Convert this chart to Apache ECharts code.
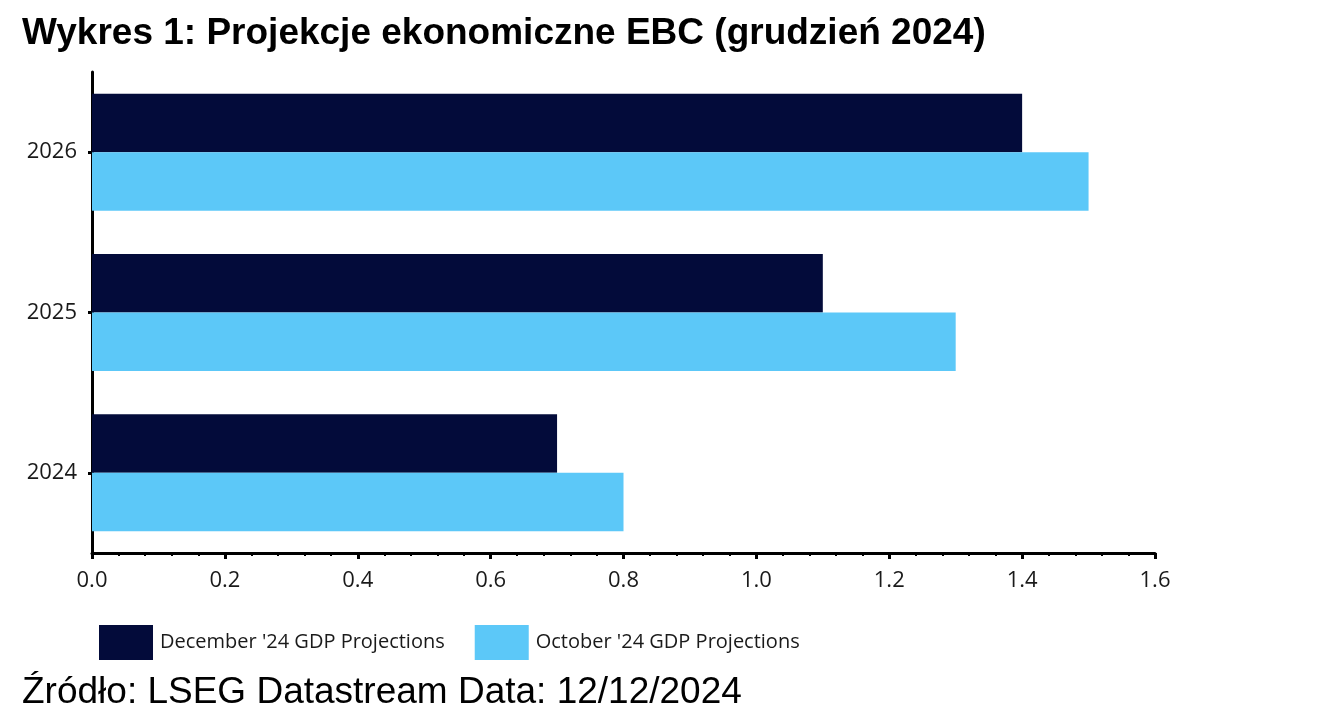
<!DOCTYPE html>
<html>
<head>
<meta charset="utf-8">
<script src="https://cdn.jsdelivr.net/npm/echarts@6/dist/echarts.min.js"></script>
<style>
  html, body { margin: 0; padding: 0; background: #fff; }
  #chart { width: 1338px; height: 716px; }
</style>
</head>
<body>
<div id="chart"></div>
<script>
const years = ['2024', '2025', '2026'];
const decemberGdp = [0.7, 1.1, 1.4];
const octoberGdp = [0.8, 1.3, 1.5];
const decName = "December '24 GDP Projections";
const octName = "October '24 GDP Projections";

const chart = echarts.init(document.getElementById('chart'));

const axisFont = { fontFamily: 'Open Sans', fontSize: 22, color: '#1a1a1a' };

chart.setOption({
  backgroundColor: '#fff',
  animation: false,
  title: [
    {
      text: 'Wykres 1: Projekcje ekonomiczne EBC (grudzień 2024)',
      left: 17,
      top: 10,
      textStyle: { fontFamily: 'Liberation Sans', fontWeight: 'bold', fontSize: 37, color: '#000' }
    },
    {
      text: 'Źródło: LSEG Datastream Data: 12/12/2024',
      left: 17,
      top: 669,
      textStyle: { fontFamily: 'Liberation Sans', fontWeight: 'normal', fontSize: 37, color: '#000' }
    }
  ],
  legend: {
    data: [decName, octName],
    left: 94,
    top: 620,
    itemWidth: 54,
    itemHeight: 35,
    itemGap: 30,
    icon: 'rect',
    textStyle: { fontFamily: 'Open Sans', fontSize: 20, color: '#1a1a1a', padding: [7, 0, 0, 2] }
  },
  grid: {
    left: 92,
    right: 183,
    top: 72,
    bottom: 163
  },
  xAxis: {
    type: 'value',
    min: 0,
    max: 1.6,
    interval: 0.2,
    axisLine: { show: true, lineStyle: { color: '#000', width: 3 } },
    axisTick: { show: true, length: 6, lineStyle: { color: '#000', width: 3 } },
    minorTick: { show: true, splitNumber: 5, length: 3, lineStyle: { color: '#000', width: 2 } },
    splitLine: { show: false },
    axisLabel: {
      ...axisFont,
      margin: 17,
      formatter: v => v.toFixed(1)
    }
  },
  yAxis: {
    type: 'category',
    data: years,
    axisLine: { show: true, lineStyle: { color: '#000', width: 3 } },
    axisTick: { show: true, alignWithLabel: true, length: 4, lineStyle: { color: '#000', width: 3 } },
    axisLabel: { ...axisFont, margin: 15 }
  },
  series: [
    {
      name: decName,
      type: 'bar',
      data: decemberGdp,
      itemStyle: { color: '#030b3a' },
      barGap: '0%',
      barCategoryGap: '27%'
    },
    {
      name: octName,
      type: 'bar',
      data: octoberGdp,
      itemStyle: { color: '#5cc8f8' },
      barGap: '0%',
      barCategoryGap: '27%'
    }
  ]
});
</script>
</body>
</html>
